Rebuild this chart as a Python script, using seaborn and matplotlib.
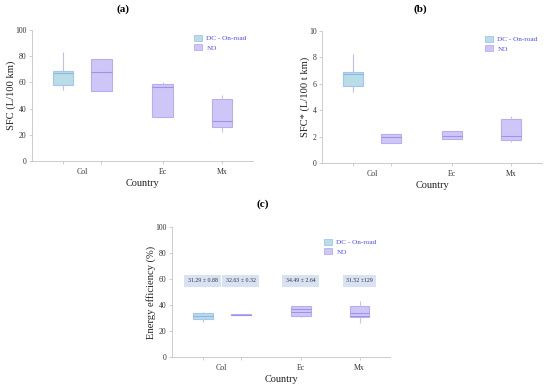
import numpy as np
import pandas as pd
import matplotlib
matplotlib.use("Agg")
import matplotlib.pyplot as plt
from matplotlib.patches import Patch
import seaborn as sns

# Boxplot summaries: [min, q1, median, q3, max]
countries = ["Col", "Ec", "Mx"]
box_country = ["Col", "Col", "Ec", "Mx"]
box_group = ["DC - On-road", "NO", "NO", "NO"]
groups = ["DC - On-road", "NO"]

sfc_km = [
    [54.2, 58.2, 66.9, 68.9, 83.4],
    [53.4, 53.4, 67.7, 77.6, 77.6],
    [33.6, 33.6, 56.3, 58.5, 60.3],
    [22.4, 26.2, 30.5, 47.3, 50.4],
]
sfc_tkm = [
    [5.38, 5.81, 6.72, 6.92, 8.28],
    [1.52, 1.52, 1.94, 2.22, 2.22],
    [1.84, 1.84, 2.02, 2.45, 2.45],
    [1.59, 1.72, 2.02, 3.36, 3.54],
]
efficiency = [
    [27.2, 29.2, 31.5, 33.6, 34.9],
    [32.3, 32.3, 32.6, 32.8, 32.8],
    [31.0, 31.5, 36.7, 39.2, 39.5],
    [26.4, 30.5, 34.1, 39.2, 43.0],
]
eff_mean = [31.29, 32.63, 34.49, 31.52]
eff_label = ["31.29 ± 0.88", "32.63 ± 0.32", "34.49 ± 2.64", "31.52 ±129"]

# layout on the numeric x axis
center = {"Col": 1.0, "Ec": 3.1, "Mx": 4.66}
shift = {"DC - On-road": -0.5, "NO": 0.5}
box_w = 0.53

positions = []
for c, g in zip(box_country, box_group):
    p = center[c]
    if box_country.count(c) > 1:
        p += shift[g]
    positions.append(p)

fill = {"DC - On-road": "#b9dde6", "NO": "#cfc6f8"}
edge = {"DC - On-road": "#a3c6ee", "NO": "#b9adf2"}
median_c = {"DC - On-road": "#8fb6e4", "NO": "#9f90e8"}
whisk_c = {"DC - On-road": "#c3bcf6", "NO": "#c9c0f6"}

serif = "Liberation Serif"
plt.rcParams["font.family"] = serif


def long_table(summaries):
    rows = []
    for p, g, vals in zip(positions, box_group, summaries):
        for v in vals:
            rows.append({"pos": p, "group": g, "value": v})
    return pd.DataFrame(rows)


def panel(ax, summaries, ylabel, yticks, ymax, legend_xy):
    df = long_table(summaries)
    sns.boxplot(data=df, x="pos", y="value", hue="group", hue_order=groups,
                native_scale=True, dodge=False, whis=(0, 100), width=box_w,
                showcaps=False, fliersize=0, linewidth=0.8, legend=False,
                palette=fill, ax=ax)
    for cont, g in zip(ax.containers, groups):
        for b in cont.boxes:
            b.set_facecolor(fill[g])
            b.set_edgecolor(edge[g])
            b.set_linewidth(0.8)
        for m in cont.medians:
            m.set_color(median_c[g])
            m.set_linewidth(0.8)
        for w in cont.whiskers:
            w.set_color(whisk_c[g])
            w.set_linewidth(0.8)
    ax.set_xlim(-0.32, 5.47)
    ax.set_ylim(0, ymax)
    ax.set_yticks(yticks)
    ax.xaxis.remove_overlapping_locs = False
    ax.set_xticks(positions, labels=[""] * len(positions))
    ax.set_xticks([center[c] for c in countries], labels=countries, minor=True)
    ax.tick_params(axis="x", which="major", length=2, width=0.5, color="#bbbbbb")
    ax.tick_params(axis="x", which="minor", length=0, pad=5, labelsize=5.6,
                   labelcolor="#333333")
    ax.tick_params(axis="y", length=2.5, width=0.5, color="#bbbbbb", pad=1.5,
                   labelsize=5.6, labelcolor="#333333")
    for s in ["top", "right"]:
        ax.spines[s].set_visible(False)
    for s in ["left", "bottom"]:
        ax.spines[s].set_color("#c4c4c4")
        ax.spines[s].set_linewidth(0.6)
    ax.set_ylabel(ylabel, fontsize=7.6, color="#222222", labelpad=-0.5)
    ax.set_xlabel("Country", fontsize=7.4, color="#222222", labelpad=2)
    handles = [Patch(facecolor=fill[g], edgecolor=edge[g], linewidth=0.6) for g in groups]
    ax.legend(handles, groups, loc="upper left", bbox_to_anchor=legend_xy,
              bbox_transform=ax.figure.transFigure, frameon=False, fontsize=5.2,
              labelcolor="#4a4aff", borderpad=0, borderaxespad=0,
              handlelength=1.1, handleheight=0.9, handletextpad=0.6,
              labelspacing=0.35)


W, H = 550, 385
fig = plt.figure(figsize=(W / 100, H / 100), dpi=100)
fig.patch.set_facecolor("white")


def axes_px(left, right, top, bottom):
    return fig.add_axes([left / W, 1 - bottom / H, (right - left) / W, (bottom - top) / H])


ax_a = axes_px(32, 253, 30, 161)
ax_b = axes_px(322, 542, 31, 163)
ax_c = axes_px(172, 390, 227, 357)

panel(ax_a, sfc_km, "SFC (L/100 km)", range(0, 101, 20), 100, (194 / W, 1 - 35 / H))
panel(ax_b, sfc_tkm, "SFC* (L/100 t km)", range(0, 11, 2), 10, (485 / W, 1 - 36 / H))
panel(ax_c, efficiency, "Energy efficiency (%)", range(0, 101, 20), 100,
      (324 / W, 1 - 239 / H))

# mean lines and mean ± sd labels in panel (c)
for p, g, m, lab in zip(positions, box_group, eff_mean, eff_label):
    ax_c.hlines(m, p - box_w / 2, p + box_w / 2, color=median_c[g], lw=0.7, zorder=5)
    ax_c.text(p, 58.5, lab, ha="center", va="center", fontsize=4.2, color="#333333",
              bbox=dict(boxstyle="square,pad=0.6", fc="#d9e2f3", ec="none"))

fig.text(123 / W, 1 - 9 / H, "(a)", ha="center", va="center", fontsize=8, fontweight="bold")
fig.text(420 / W, 1 - 9 / H, "(b)", ha="center", va="center", fontsize=8, fontweight="bold")
fig.text(263 / W, 1 - 204 / H, "(c)", ha="center", va="center", fontsize=8, fontweight="bold")

fig.savefig("out.png", dpi=100, facecolor="white")
